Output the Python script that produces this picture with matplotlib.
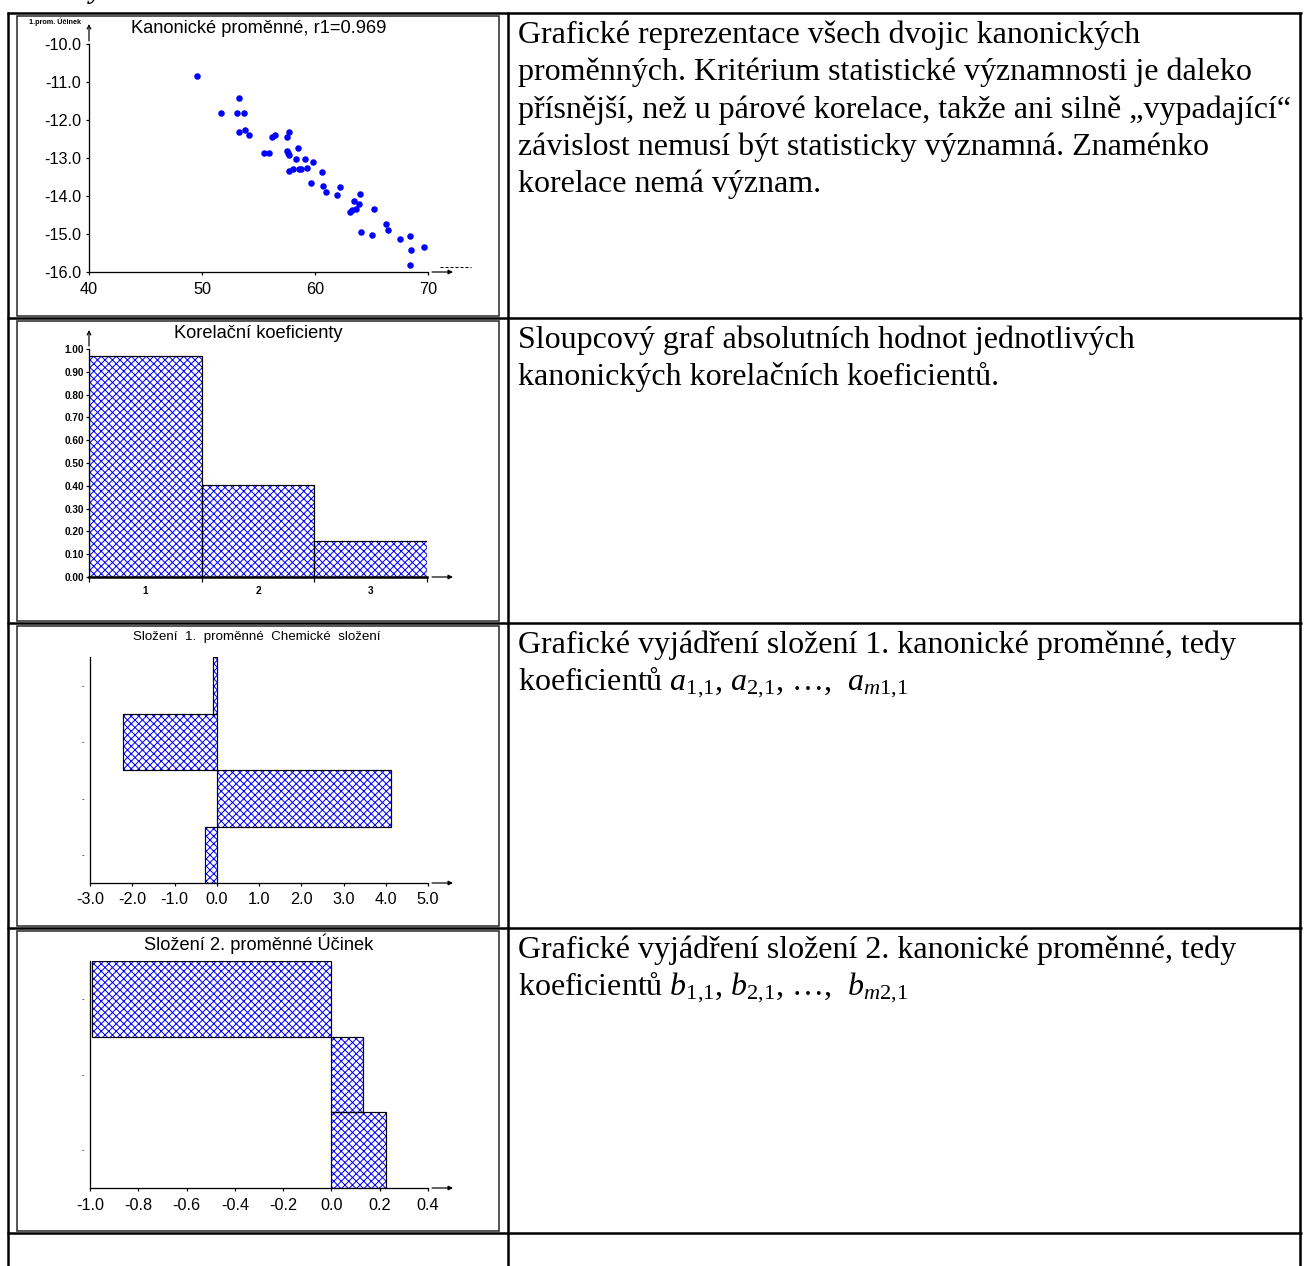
import matplotlib
matplotlib.use('Agg')
import matplotlib.pyplot as plt

W, H = 1304, 1266
DPI = 90


def px(v):
    # pixels -> points at this dpi
    return v * 72.0 / DPI


plt.rcParams['font.family'] = ['Liberation Sans', 'DejaVu Sans']
plt.rcParams['hatch.linewidth'] = px(1.0)
plt.rcParams['mathtext.fontset'] = 'custom'
plt.rcParams['mathtext.rm'] = 'Liberation Serif'
plt.rcParams['mathtext.it'] = 'Liberation Serif:italic'

#-- Chart 1: canonical variables scatter
scatter_x = [49.6, 51.65, 53.24, 53.1, 53.7, 53.24, 53.83, 54.19, 55.52, 55.96,
             56.2, 56.5, 57.5, 57.68, 57.5, 57.68, 58.47, 57.68, 58.09, 58.33,
             58.56, 58.74, 59.12, 59.33, 59.8, 59.69, 60.6, 60.75, 60.99, 62.23,
             61.93, 63.1, 63.47, 63.65, 63.88, 63.94, 64.09, 65.18, 65.07, 66.25,
             66.49, 67.55, 68.38, 68.52, 68.38, 69.68, 63.3, 57.6]
scatter_y = [-10.83, -11.82, -11.43, -11.82, -11.82, -12.31, -12.25, -12.39, -12.87, -12.87,
             -12.46, -12.39, -12.46, -12.31, -12.82, -12.91, -12.74, -13.35, -13.29, -13.03,
             -13.29, -13.29, -13.03, -13.26, -13.11, -13.66, -13.38, -13.73, -13.9, -13.75,
             -13.98, -14.41, -14.13, -14.34, -14.2, -13.94, -14.94, -14.34, -15.02, -14.74,
             -14.9, -15.13, -15.06, -15.41, -15.82, -15.34, -14.37, -12.86]
r1 = 0.969
scatter_xticks = [40, 50, 60, 70]
scatter_yticks = [-16.0, -15.0, -14.0, -13.0, -12.0, -11.0, -10.0]

#-- Chart 2: canonical correlation coefficients
corr_labels = ['1', '2', '3']
corr_values = [0.969, 0.405, 0.157]
corr_yticks = [0.0, 0.1, 0.2, 0.3, 0.4, 0.5, 0.6, 0.7, 0.8, 0.9, 1.0]

#-- Chart 3 / 4: composition of canonical variables (top to bottom)
comp1_values = [-0.08, -2.21, 4.12, -0.28]
comp1_xticks = [-3.0, -2.0, -1.0, 0.0, 1.0, 2.0, 3.0, 4.0, 5.0]
comp2_values = [-0.99, 0.132, 0.226]
comp2_xticks = [-1.0, -0.8, -0.6, -0.4, -0.2, 0.0, 0.2, 0.4]

#-- Right column texts
row_texts = [
    ['Grafické reprezentace všech dvojic kanonických',
     'proměnných. Kritérium statistické významnosti je daleko',
     'přísnější, než u párové korelace, takže ani silně „vypadající“',
     'závislost nemusí být statisticky významná. Znaménko',
     'korelace nemá význam.'],
    ['Sloupcový graf absolutních hodnot jednotlivých',
     'kanonických korelačních koeficientů.'],
    ['Grafické vyjádření složení 1. kanonické proměnné, tedy',
     r'koeficientů $a_{1{,}1}$, $a_{2{,}1}$, …,  $a_{m\mathrm{1{,}1}}$'],
    ['Grafické vyjádření složení 2. kanonické proměnné, tedy',
     r'koeficientů $b_{1{,}1}$, $b_{2{,}1}$, …,  $b_{m\mathrm{2{,}1}}$'],
]

row_tops = [13, 318, 623, 928, 1233]
frames = [(17, 16, 499, 316), (17, 321, 499, 621), (17, 626, 499, 926), (17, 931, 499, 1231)]

fig = plt.figure(figsize=(W / DPI, H / DPI), dpi=DPI)
fig.patch.set_facecolor('white')

bg = fig.add_axes([0, 0, 1, 1])
bg.set_xlim(0, W)
bg.set_ylim(H, 0)
bg.axis('off')

#-- table grid
for y in row_tops:
    bg.plot([6.5, 1301.5], [y, y], color='k', lw=px(2.5), solid_capstyle='butt')
for x in [7.5, 508, 1300]:
    bg.plot([x, x], [row_tops[0] - 1, H + 2], color='k', lw=px(2.5), solid_capstyle='butt')
for (x0, y0, x1, y1) in frames:
    bg.add_patch(plt.Rectangle((x0, y0), x1 - x0, y1 - y0, fill=False, ec='#222222', lw=px(1.5)))

# cut-off heading letter above the table
bg.text(90, -2, 'y', family='Liberation Serif', style='italic', weight='bold',
        fontsize=px(28), va='baseline', ha='left')

#-- texts in right column
for top, lines in zip(row_tops, row_texts):
    for i, line in enumerate(lines):
        bg.text(518, top + 30 + i * 37.3, line, family='Liberation Serif',
                fontsize=px(32), va='baseline', ha='left')


def add_ax(x0, y0, x1, y1):
    ax = fig.add_axes([x0 / W, 1 - y1 / H, (x1 - x0) / W, (y1 - y0) / H])
    ax.set_facecolor('none')
    for s in ['top', 'right']:
        ax.spines[s].set_visible(False)
    for s in ['left', 'bottom']:
        ax.spines[s].set_linewidth(px(1.3))
    return ax


def arrow(x0, y0, x1, y1, style='-|>'):
    bg.annotate('', xy=(x1, y1), xytext=(x0, y0),
                arrowprops=dict(arrowstyle=style, color='k', lw=px(1.2),
                                mutation_scale=px(9), shrinkA=0, shrinkB=0))


def hatched_bars(ax, horizontal, pos, vals, width):
    if horizontal:
        ax.barh(pos, vals, height=width, color='white', edgecolor='#0000ff', hatch='xxxx', lw=0)
        ax.barh(pos, vals, height=width, fill=False, edgecolor='k', lw=px(1.2))
    else:
        ax.bar(pos, vals, width=width, color='white', edgecolor='#0000ff', hatch='xxxx', lw=0)
        ax.bar(pos, vals, width=width, fill=False, edgecolor='k', lw=px(1.2))


tick_fs = px(16.2)

#-- Chart 1
ax1 = add_ax(89, 44, 428, 272)
ax1.scatter(scatter_x, scatter_y, s=px(6.5) ** 2, color='#0000ff', marker='o', lw=0, clip_on=False)
ax1.set_xlim(40, 70)
ax1.set_ylim(-16, -10)
ax1.set_xticks(scatter_xticks)
ax1.set_yticks(scatter_yticks)
ax1.set_yticklabels(['%.1f' % v for v in scatter_yticks])
ax1.tick_params(length=px(3.5), width=px(1.2), labelsize=tick_fs, pad=px(4))
ax1.tick_params(axis='x', pad=px(6))
bg.text(259, 33, 'Kanonické proměnné, r1=%.3f' % r1, fontsize=px(18.3), ha='center', va='baseline')
bg.text(29, 24, '1.prom. Účinek', fontsize=px(7.2), weight='bold', ha='left', va='baseline')
arrow(89, 41, 89, 24, style='->')
arrow(432, 272, 453, 272)
bg.plot([440, 471], [267, 267], color='k', lw=px(1), dashes=(3, 2))

#-- Chart 2
ax2 = add_ax(89, 349, 427, 577)
hatched_bars(ax2, False, [1, 2, 3], corr_values, 1.0)
ax2.set_xlim(0.5, 3.5)
ax2.set_ylim(0, 1.0)
ax2.set_yticks(corr_yticks)
ax2.set_yticklabels(['%.2f' % v for v in corr_yticks])
ax2.set_xticks([0.5, 1.5, 2.5, 3.5])
ax2.set_xticklabels([])
ax2.set_xticks([1, 2, 3], minor=True)
ax2.set_xticklabels(corr_labels, minor=True)
ax2.tick_params(axis='x', which='major', length=px(5), width=px(1.2))
ax2.tick_params(axis='x', which='minor', length=0, labelsize=px(10), pad=px(9))
ax2.tick_params(axis='y', length=px(3), width=px(1.2), labelsize=px(10), pad=px(2))
for lab in ax2.get_yticklabels() + ax2.get_xticklabels(minor=True):
    lab.set_fontweight('bold')
ax2.spines['bottom'].set_linewidth(px(2.5))
bg.text(258, 338, 'Korelační koeficienty', fontsize=px(18.3), ha='center', va='baseline')
arrow(89, 346, 89, 330, style='->')
arrow(432, 577, 453, 577)

#-- Chart 3
ax3 = add_ax(90, 657, 428, 883)
pos3 = list(range(len(comp1_values), 0, -1))
hatched_bars(ax3, True, pos3, comp1_values, 1.0)
ax3.set_xlim(-3, 5)
ax3.set_ylim(0.5, len(comp1_values) + 0.5)
ax3.set_xticks(comp1_xticks)
ax3.set_xticklabels(['%.1f' % v for v in comp1_xticks])
ax3.set_yticks(pos3)
ax3.set_yticklabels(['-'] * len(pos3))
ax3.tick_params(axis='x', length=px(3.5), width=px(1.2), labelsize=tick_fs, pad=px(6))
ax3.tick_params(axis='y', length=0, labelsize=px(8), pad=px(6))
bg.text(257, 640, 'Složení  1.  proměnné  Chemické  složení', fontsize=px(13.4),
        ha='center', va='baseline')
arrow(432, 883, 453, 883)

#-- Chart 4
ax4 = add_ax(90, 961, 428, 1188)
pos4 = list(range(len(comp2_values), 0, -1))
hatched_bars(ax4, True, pos4, comp2_values, 1.0)
ax4.set_xlim(-1.0, 0.4)
ax4.set_ylim(0.5, len(comp2_values) + 0.5)
ax4.set_xticks(comp2_xticks)
ax4.set_xticklabels(['%.1f' % v for v in comp2_xticks])
ax4.set_yticks(pos4)
ax4.set_yticklabels(['-'] * len(pos4))
ax4.tick_params(axis='x', length=px(3.5), width=px(1.2), labelsize=tick_fs, pad=px(6))
ax4.tick_params(axis='y', length=0, labelsize=px(8), pad=px(6))
bg.text(259, 950, 'Složení 2. proměnné Účinek', fontsize=px(18.3), ha='center', va='baseline')
arrow(432, 1188, 453, 1188)

fig.savefig('out.png', dpi=DPI)
